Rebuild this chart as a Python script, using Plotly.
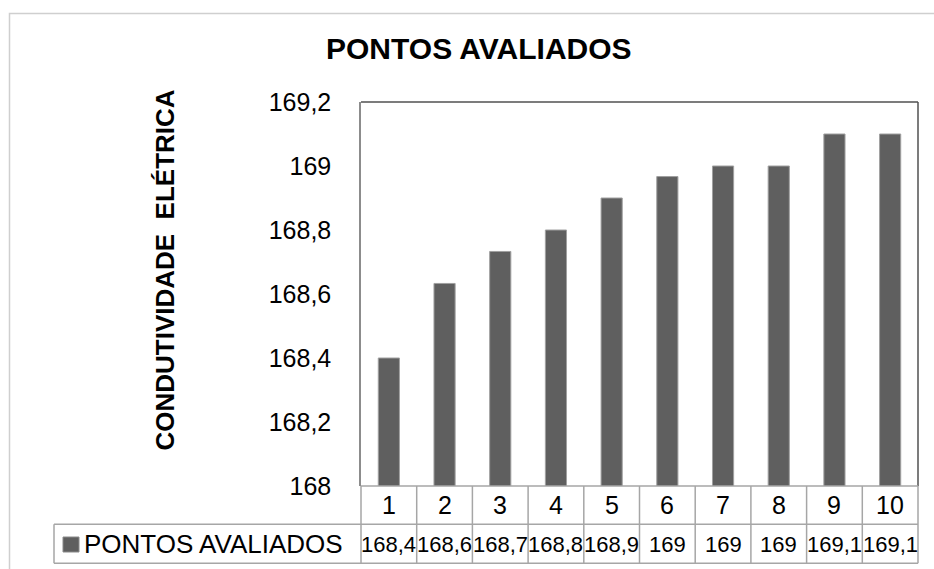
import plotly.graph_objects as go

# Data
categories = [1, 2, 3, 4, 5, 6, 7, 8, 9, 10]
series_name = "PONTOS AVALIADOS"
values = [168.4, 168.633, 168.733, 168.8, 168.9, 168.967, 169.0, 169.0, 169.1, 169.1]
y_title = "CONDUTIVIDADE  ELÉTRICA"
chart_title = "PONTOS AVALIADOS"

W, H = 934, 569
L, R, T, B = 361, 16, 102, 83
PW, PH = W - L - R, H - T - B
FONT = "Liberation Sans, Arial, sans-serif"
BAR = "#5f5f5f"
GRID = "#a6a6a6"
TXT = 25
VAL_TXT = 22


def fx(px):
    return (px - L) / PW


def fy(py):
    return (H - B - py) / PH


def fmt(v):
    s = f"{round(v, 1):.1f}"
    if s.endswith(".0"):
        s = s[:-2]
    return s.replace(".", ",")


n = len(categories)
col = 1.0 / n  # paper width of one table column

fig = go.Figure(
    go.Bar(
        x=categories,
        y=values,
        marker=dict(color=BAR, line=dict(color="#a0a0a0", width=1)),
        name=series_name,
        showlegend=False,
    )
)

shapes = []
annotations = []

# outer chart frame
shapes.append(dict(type="rect", xref="paper", yref="paper",
                   x0=fx(9.5), x1=fx(W + 20), y0=fy(H + 20), y1=fy(13.5),
                   line=dict(color="#cfcfcf", width=1.5), layer="below"))

# top and right border of plot area
shapes.append(dict(type="line", xref="paper", yref="paper", x0=0, x1=1, y0=1, y1=1,
                   line=dict(color="#505050", width=1.5)))
shapes.append(dict(type="line", xref="paper", yref="paper", x0=1, x1=1, y0=0, y1=1,
                   line=dict(color="#505050", width=1.5)))

# data table
row1_bot = fy(524.3)
row2_bot = fy(563.3)
for i in range(n + 1):
    shapes.append(dict(type="line", xref="paper", yref="paper",
                       x0=i * col, x1=i * col, y0=row2_bot, y1=0,
                       line=dict(color=GRID, width=1.5)))
shapes.append(dict(type="line", xref="paper", yref="paper", x0=0, x1=1, y0=0, y1=0,
                   line=dict(color=GRID, width=1.5)))
for yy in (row1_bot, row2_bot):
    shapes.append(dict(type="line", xref="paper", yref="paper", x0=fx(54), x1=1, y0=yy, y1=yy,
                       line=dict(color=GRID, width=1.5)))
shapes.append(dict(type="line", xref="paper", yref="paper", x0=fx(54), x1=fx(54),
                   y0=row2_bot, y1=row1_bot, line=dict(color=GRID, width=1.5)))

# legend key in the table
shapes.append(dict(type="rect", xref="paper", yref="paper",
                   x0=fx(63), x1=fx(79), y0=fy(552), y1=fy(537),
                   fillcolor=BAR, line=dict(color="#8a8a8a", width=1)))
annotations.append(dict(xref="paper", yref="paper", x=fx(82), y=fy(544),
                        xanchor="left", yanchor="middle", showarrow=False,
                        text=series_name, font=dict(family=FONT, size=26, color="#000")))

for i, (c, v) in enumerate(zip(categories, values)):
    cx = (i + 0.5) * col
    annotations.append(dict(xref="paper", yref="paper", x=cx, y=fy(505),
                            xanchor="center", yanchor="middle", showarrow=False,
                            text=str(c), font=dict(family=FONT, size=TXT, color="#000")))
    annotations.append(dict(xref="paper", yref="paper", x=cx, y=fy(544),
                            xanchor="center", yanchor="middle", showarrow=False,
                            borderpad=0,
                            text=fmt(v), font=dict(family=FONT, size=VAL_TXT, color="#000")))

# titles
annotations.append(dict(xref="paper", yref="paper", x=fx(478.5), y=fy(48.5),
                        xanchor="center", yanchor="middle", showarrow=False,
                        text=f"<b>{chart_title}</b>",
                        font=dict(family=FONT, size=30, color="#000")))
annotations.append(dict(xref="paper", yref="paper", x=fx(164), y=fy(270.5),
                        xanchor="center", yanchor="middle", showarrow=False,
                        textangle=-90, text=f"<b>{y_title}</b>",
                        font=dict(family=FONT, size=26, color="#000")))

fig.update_layout(
    width=W, height=H, autosize=False,
    margin=dict(l=L, r=R, t=T, b=B, pad=0),
    paper_bgcolor="white", plot_bgcolor="white",
    separators=",.",
    bargap=0.62,
    showlegend=False,
    shapes=shapes,
    annotations=annotations,
    xaxis=dict(range=[0.5, n + 0.5], showticklabels=False, ticks="", showgrid=False,
               zeroline=False, showline=False, fixedrange=True),
    yaxis=dict(range=[168, 169.2], dtick=0.2, tick0=168, showgrid=False, zeroline=False,
               showline=True, linecolor="#8c8c8c", linewidth=1.5, ticks="",
               ticklabelstandoff=23,
               tickfont=dict(family=FONT, size=TXT, color="#000"), fixedrange=True),
)

fig.write_html("out.html", config={"displayModeBar": False})
